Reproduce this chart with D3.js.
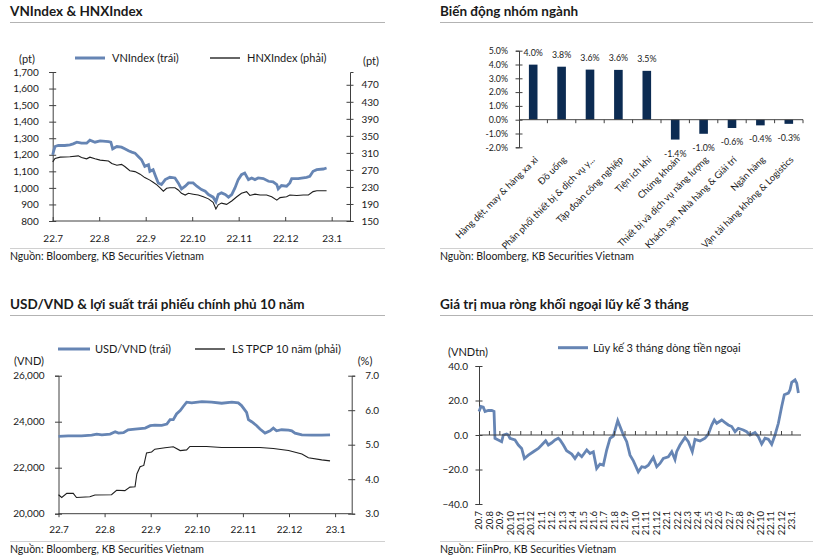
<!DOCTYPE html>
<html><head><meta charset="utf-8">
<script src="https://cdn.jsdelivr.net/npm/d3@7"></script>
<style>
body{margin:0;background:#fff;}
svg{display:block;font-family:Lato, "Noto Sans", sans-serif;color:#1a1a1a;}
</style></head><body>
<svg id="c" width="814" height="560"></svg>
<script>
// ---------- DATA ----------
const monthLabels = ["22.7","22.8","22.9","22.10","22.11","22.12","23.1"];
// [month offset from 2022-07, value]
const vnIndex = [[0.00,1200],[0.03,1232],[0.05,1250],[0.12,1256],[0.26,1256],[0.37,1260],[0.44,1266],[0.52,1276],[0.62,1270],[0.73,1270],[0.80,1288],[0.91,1276],[1.02,1284],[1.20,1280],[1.25,1276],[1.29,1236],[1.38,1250],[1.48,1246],[1.55,1236],[1.63,1224],[1.70,1216],[1.77,1210],[1.84,1190],[1.91,1170],[1.98,1130],[2.06,1140],[2.09,1100],[2.16,1110],[2.20,1080],[2.27,1030],[2.34,1020],[2.42,1050],[2.52,1064],[2.63,1060],[2.70,1030],[2.77,994],[2.85,1010],[2.92,1030],[3.02,1030],[3.10,1010],[3.20,990],[3.28,980],[3.35,960],[3.45,944],[3.51,916],[3.56,960],[3.63,970],[3.71,960],[3.78,944],[3.85,960],[3.92,1000],[3.99,1050],[4.06,1080],[4.13,1090],[4.21,1050],[4.28,1060],[4.35,1050],[4.42,1060],[4.53,1056],[4.64,1040],[4.74,1036],[4.82,1020],[4.85,994],[4.92,1014],[5.03,1010],[5.10,1030],[5.14,1056],[5.28,1056],[5.46,1064],[5.53,1070],[5.60,1100],[5.68,1110],[5.82,1114],[5.89,1120]];
const hnxIndex = [[0.00,289],[0.05,297],[0.16,300],[0.37,301],[0.55,303],[0.62,299],[0.73,296],[0.80,300],[0.91,296],[1.02,293],[1.20,291],[1.27,285],[1.38,281],[1.48,283],[1.55,278],[1.66,268],[1.77,266],[1.88,260],[1.98,252],[2.09,246],[2.16,241],[2.24,235],[2.31,228],[2.38,220],[2.45,227],[2.52,228],[2.63,228],[2.70,223],[2.77,215],[2.85,211],[2.92,215],[3.02,213],[3.13,211],[3.24,207],[3.35,202],[3.45,194],[3.51,178],[3.56,188],[3.63,192],[3.74,189],[3.85,197],[3.96,207],[4.06,215],[4.17,219],[4.24,210],[4.35,213],[4.46,211],[4.60,211],[4.71,207],[4.82,199],[4.89,205],[5.03,207],[5.10,211],[5.25,210],[5.39,211],[5.50,211],[5.60,219],[5.68,221],[5.89,221]];
const vnTicks = [800,900,1000,1100,1200,1300,1400,1500,1600,1700];
const hnxTicks = [150,190,230,270,310,350,390,430,470];

const sectors = ["Hàng dệt, may & hàng xa xỉ","Đồ uống","Phân phối thiết bị & dịch vụ y...","Tập đoàn công nghiệp","Tiện ích khí","Chứng khoán","Thiết bị và dịch vụ năng lượng","Khách sạn, Nhà hàng & Giải trí","Ngân hàng","Vận tải hàng không & Logistics"];
const sectorChange = [3.99,3.84,3.63,3.61,3.54,-1.44,-1.02,-0.60,-0.41,-0.30];
const sectorTicks = [-2,-1,0,1,2,3,4,5];

const usdVnd = [[0,23358],[0.21,23387],[0.50,23387],[0.72,23416],[0.83,23460],[0.94,23430],[1.12,23460],[1.23,23562],[1.30,23504],[1.41,23520],[1.51,23650],[1.66,23679],[1.88,23723],[1.99,23825],[2.09,23854],[2.24,23840],[2.35,23898],[2.42,24088],[2.49,24088],[2.56,24336],[2.64,24482],[2.71,24672],[2.78,24847],[2.89,24818],[3.11,24876],[3.32,24847],[3.54,24803],[3.76,24847],[3.90,24818],[3.97,24701],[4.08,24409],[4.12,24088],[4.19,24000],[4.30,23825],[4.37,23679],[4.48,23504],[4.59,23606],[4.66,23723],[4.73,23606],[4.84,23650],[4.99,23635],[5.06,23606],[5.13,23504],[5.28,23431],[5.49,23416],[5.71,23416],[5.89,23431]];
const bond10y = [[0,3.55],[0.07,3.47],[0.18,3.59],[0.32,3.59],[0.39,3.47],[0.68,3.49],[0.79,3.54],[1.15,3.55],[1.26,3.68],[1.44,3.67],[1.55,3.77],[1.66,3.78],[1.70,4.15],[1.77,4.36],[1.85,4.40],[1.91,4.76],[2.02,4.79],[2.09,4.87],[2.31,4.91],[2.49,4.94],[2.64,4.83],[2.78,4.85],[2.85,4.95],[3.21,4.95],[3.54,4.92],[3.95,4.92],[4.37,4.92],[4.66,4.89],[4.99,4.83],[5.28,4.73],[5.42,4.62],[5.71,4.56],[5.89,4.53]];
const usdTicks = [20000,22000,24000,26000];
const bondTicks = [3,4,5,6,7];

const flowLabels = ["20.7","20.8","20.9","20.10","20.11","20.12","21.1","21.2","21.3","21.4","21.5","21.6","21.7","21.8","21.9","21.10","21.11","21.12","22.1","22.2","22.3","22.4","22.5","22.6","22.7","22.8","22.9","22.10","22.11","22.12","23.1"];
// [month offset from 2020-07, VND trillion]
const foreignFlow = [[0,13.6],[0.19,16.5],[0.41,16.1],[0.58,13.6],[0.89,14.2],[1.22,14.2],[1.44,13.6],[1.53,-1.9],[1.85,-2.9],[2.17,-3.9],[2.33,0],[2.65,0.6],[2.81,0],[2.97,-1.9],[3.45,-2.9],[3.77,-5.8],[4.09,-7.8],[4.35,-13.6],[4.73,-11.7],[5.21,-9.7],[5.69,-7.8],[6.01,-5.8],[6.39,-3.3],[6.65,-5.8],[6.97,-4.5],[7.29,-2.9],[7.60,-1.9],[7.77,-2.9],[8.09,-5.8],[8.40,-9.1],[8.89,-11.1],[9.20,-13.6],[9.52,-10.7],[9.85,-12.6],[10.33,-8.7],[10.64,-10.7],[10.96,-9.7],[11.28,-19.4],[11.60,-16.9],[11.92,-17.5],[12.24,-8.7],[12.56,-1.9],[12.88,-0.6],[13.30,8.3],[13.52,4.9],[13.84,0],[14.16,-3.9],[14.48,-11.7],[14.80,-15],[15.27,-21.4],[15.60,-18.4],[15.92,-18.8],[16.23,-17.5],[16.71,-13],[17.04,-18.4],[17.35,-16.5],[17.67,-13.6],[18.15,-12.6],[18.48,-9.7],[18.79,-14.2],[18.95,-9.7],[19.27,-5.8],[19.75,-1.4],[20.07,-3.9],[20.45,-9.7],[20.71,-2.5],[21.19,-3.5],[21.67,-1.9],[21.99,0.6],[22.31,5.8],[22.56,8.7],[22.79,6.8],[23.27,8.7],[23.59,7.2],[23.90,5.8],[24.23,4.9],[24.55,1.9],[24.86,3.9],[25.34,2.9],[25.66,1.9],[25.98,0],[26.46,1.4],[26.78,-1],[27.10,-5.2],[27.42,-1.9],[27.74,-2.5],[28.06,-5.4],[28.38,0],[28.70,6.8],[29.02,16.5],[29.27,23.3],[29.66,24.3],[29.82,26.2],[29.98,30.5],[30.30,32],[30.46,30.1],[30.62,24.3]];
const flowTicks = [-40,-20,0,20,40];

// ---------- STYLE ----------
const BLUE = "#6685b4", DARK = "#1e1e1e", NAVY = "#0c2b52", AX = "#404040", RULE = "#b3b3b3";
const svg = d3.select("#c");

function txt(x, y, s, opt = {}) {
  return svg.append("text").attr("x", x).attr("y", y).text(s)
    .attr("font-size", opt.size || 10).attr("font-weight", opt.bold ? 700 : 400)
    .attr("text-anchor", opt.anchor || "start").attr("fill", "#1a1a1a");
}
function hline(x1, x2, y, c, w) {
  svg.append("line").attr("x1", x1).attr("x2", x2).attr("y1", y).attr("y2", y)
    .attr("stroke", c).attr("stroke-width", w);
}
function styleAxis(g, size, cross) {
  g.select(".domain").attr("stroke", AX);
  g.selectAll(".tick line").attr("stroke", AX);
  g.selectAll(".tick text").attr("fill", "#1a1a1a").attr("font-family", "Lato, sans-serif").attr("font-size", size);
  if (cross) g.selectAll(".tick line").attr("x1", -3.5).attr("x2", 3.5);
}

// ---------- TITLES / RULES / SOURCES ----------
const TS = 13.5, SRC = 10.5, LEG = 11;
txt(10, 16, "VNIndex & HNXIndex", {size: TS, bold: true});
txt(440, 16, "Biến động nhóm ngành", {size: TS, bold: true});
txt(10, 309, "USD/VND & lợi suất trái phiếu chính phủ 10 năm", {size: TS, bold: true});
txt(440, 309, "Giá trị mua ròng khối ngoại lũy kế 3 tháng", {size: TS, bold: true});
hline(10, 385, 22.5, RULE, 1.2); hline(440, 813, 22.5, RULE, 1.2);
hline(10, 385, 315.5, RULE, 1.2); hline(440, 813, 315.5, RULE, 1.2);
hline(10, 385, 248.5, "#d0d0d0", 1.2); hline(440, 813, 248.5, "#d0d0d0", 1.2);
hline(10, 385, 541.5, "#d0d0d0", 1.2); hline(440, 813, 541.5, "#d0d0d0", 1.2);
txt(10, 259.5, "Nguồn: Bloomberg, KB Securities Vietnam", {size: SRC});
txt(440, 259.5, "Nguồn: Bloomberg, KB Securities Vietnam", {size: SRC});
txt(10, 552.5, "Nguồn: Bloomberg, KB Securities Vietnam", {size: SRC});
txt(440, 552.5, "Nguồn: FiinPro, KB Securities Vietnam", {size: SRC});

// ---------- PANEL 1 ----------
{
  const x = d3.scaleLinear().domain([0, 6.394]).range([52.7, 350]);
  const yL = d3.scaleLinear().domain([800, 1700]).range([221, 72]);
  const yR = d3.scaleLinear().domain([150, 500]).range([221, 72]);
  const gx = svg.append("g").attr("transform", "translate(0,221)")
    .call(d3.axisBottom(x).tickValues(d3.range(monthLabels.length)).tickFormat(i => monthLabels[i]).tickSize(4).tickSizeOuter(0).tickPadding(10));
  styleAxis(gx, 10);
  gx.selectAll(".tick line").attr("y1", 0).attr("y2", -4);
  gx.select(".domain").attr("d", "M52.7,0H350");
  const gl = svg.append("g").attr("transform", "translate(52.7,0)")
    .call(d3.axisLeft(yL).tickValues(vnTicks).tickFormat(d3.format(",")).tickSizeOuter(0).tickSize(3.5).tickPadding(10.5));
  styleAxis(gl, 10, true);
  const gr = svg.append("g").attr("transform", "translate(350,0)")
    .call(d3.axisRight(yR).tickValues(hnxTicks).tickSizeOuter(0).tickSize(3.5).tickPadding(8));
  styleAxis(gr, 10, true);
  svg.append("path").datum(hnxIndex).attr("fill", "none").attr("stroke", DARK).attr("stroke-width", 1.1)
    .attr("d", d3.line().x(d => x(d[0])).y(d => yR(d[1])));
  svg.append("path").datum(vnIndex).attr("fill", "none").attr("stroke", BLUE).attr("stroke-width", 2.8)
    .attr("d", d3.line().x(d => x(d[0])).y(d => yL(d[1])));
  hline(75, 105, 58, BLUE, 3); txt(112, 61.5, "VNIndex (trái)", {size: LEG});
  hline(210, 240, 58, "#555", 1.8); txt(247, 61.5, "HNXIndex (phải)", {size: LEG});
  txt(27, 63, "(pt)", {anchor: "middle", size: LEG});
  txt(371, 65, "(pt)", {anchor: "middle", size: LEG});
}

// ---------- PANEL 2 ----------
{
  const x = d3.scaleBand().domain(sectors).range([519, 803]);
  const y = d3.scaleLinear().domain([-2, 5]).range([147.3, 50.7]);
  const gl = svg.append("g").attr("transform", "translate(519,0)")
    .call(d3.axisLeft(y).tickValues(sectorTicks).tickFormat(d => d.toFixed(1) + "%").tickSizeOuter(0).tickSize(3).tickPadding(8));
  styleAxis(gl, 8.8, true);
  svg.selectAll(".bar").data(sectors).join("rect")
    .attr("x", d => x(d) + x.bandwidth() / 2 - 4.3).attr("width", 8.6)
    .attr("y", (d, i) => y(Math.max(0, sectorChange[i])))
    .attr("height", (d, i) => Math.abs(y(sectorChange[i]) - y(0)))
    .attr("fill", NAVY);
  hline(519, 803, y(0), AX, 1);
  sectors.forEach((s, i) => {
    const xb = x(s) + x.bandwidth();
    svg.append("line").attr("x1", xb).attr("x2", xb).attr("y1", y(0)).attr("y2", y(0) + 3.5).attr("stroke", AX);
    const v = sectorChange[i];
    const cx = x(s) + x.bandwidth() / 2;
    txt(cx, v >= 0 ? y(v) - 8.5 : y(v) + 17, v.toFixed(1) + "%", {size: 8.8, anchor: "middle"});
    svg.append("text").attr("transform", `translate(${cx + 3},158) rotate(-45)`)
      .attr("text-anchor", "end").attr("dy", "0.35em").attr("font-size", 9.4).attr("fill", "#1a1a1a").text(s);
  });
}

// ---------- PANEL 3 ----------
{
  const x = d3.scaleLinear().domain([0, 6.36]).range([58.5, 351.7]);
  const yL = d3.scaleLinear().domain([20000, 26000]).range([513.7, 375.7]);
  const yR = d3.scaleLinear().domain([3, 7]).range([513.7, 375.7]);
  const gx = svg.append("g").attr("transform", "translate(0,513.7)")
    .call(d3.axisBottom(x).tickValues(d3.range(monthLabels.length)).tickFormat(i => monthLabels[i]).tickSize(3.5).tickSizeOuter(0).tickPadding(9));
  styleAxis(gx, 10);
  gx.select(".domain").attr("d", "M58.5,0H351.7");
  const gl = svg.append("g").attr("transform", "translate(58.5,0)")
    .call(d3.axisLeft(yL).tickValues(usdTicks).tickFormat(d3.format(",")).tickSizeOuter(0).tickSize(3.5).tickPadding(10.5));
  styleAxis(gl, 10, true);
  const gr = svg.append("g").attr("transform", "translate(351.7,0)")
    .call(d3.axisRight(yR).tickValues(bondTicks).tickFormat(d3.format(".1f")).tickSizeOuter(0).tickSize(3.5).tickPadding(10));
  styleAxis(gr, 10, true);
  svg.append("path").datum(bond10y).attr("fill", "none").attr("stroke", DARK).attr("stroke-width", 1.1)
    .attr("d", d3.line().x(d => x(d[0])).y(d => yR(d[1])));
  svg.append("path").datum(usdVnd).attr("fill", "none").attr("stroke", BLUE).attr("stroke-width", 2.8)
    .attr("d", d3.line().x(d => x(d[0])).y(d => yL(d[1])));
  hline(58, 90, 349, BLUE, 3); txt(95, 352.5, "USD/VND (trái)", {size: LEG});
  hline(195, 225, 349, "#555", 1.8); txt(232, 352.5, "LS TPCP 10 năm (phải)", {size: LEG});
  txt(29, 365, "(VND)", {anchor: "middle", size: LEG});
  txt(365, 365, "(%)", {anchor: "middle", size: LEG});
}

// ---------- PANEL 4 ----------
{
  const x = d3.scaleLinear().domain([0, 30.87]).range([479, 801]);
  const y = d3.scaleLinear().domain([-40, 40]).range([504, 366]);
  const gl = svg.append("g").attr("transform", "translate(479,0)")
    .call(d3.axisLeft(y).tickValues(flowTicks).tickFormat(d3.format(".1f")).tickSizeOuter(0).tickSize(3.5).tickPadding(7.5));
  styleAxis(gl, 10, true);
  svg.append("path").datum(foreignFlow).attr("fill", "none").attr("stroke", BLUE).attr("stroke-width", 2.8)
    .attr("d", d3.line().x(d => x(d[0])).y(d => y(d[1])));
  hline(479, 801, y(0), AX, 1);
  flowLabels.forEach((l, i) => {
    if (i > 0) svg.append("line").attr("x1", x(i)).attr("x2", x(i)).attr("y1", y(0)).attr("y2", y(0) - 4).attr("stroke", AX);
    svg.append("text").attr("transform", `translate(${x(i)},511) rotate(-90)`)
      .attr("text-anchor", "end").attr("dy", "0.35em").attr("font-size", 9.5).attr("fill", "#1a1a1a").text(l);
  });
  hline(558, 588, 347.7, BLUE, 3); txt(593, 351.5, "Lũy kế 3 tháng dòng tiền ngoại", {size: LEG});
  txt(468, 356, "(VNDtn)", {anchor: "middle", size: LEG});
}
</script>
</body></html>
